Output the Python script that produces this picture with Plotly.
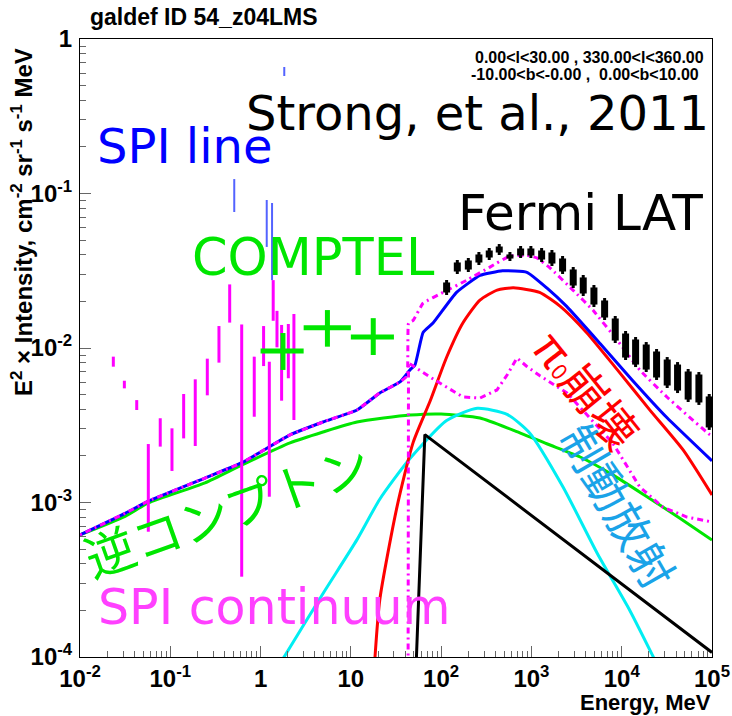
import plotly.graph_objects as go

# ---------------- data ----------------
# Model components (energy in MeV, E^2 x intensity in cm^-2 sr^-1 s^-1 MeV)
ic_energy = [0.01, 0.0316, 0.057, 0.242, 0.622, 2.12, 4.91, 11.7, 45.1, 100, 269, 624,
             1479, 3467, 7943, 19050, 43650, 1e5]
ic_flux = [6.17e-4, 8.13e-4, 9.93e-4, 1.34e-3, 1.75e-3, 2.43e-3, 2.86e-3, 3.32e-3, 3.68e-3,
           3.74e-3, 3.52e-3, 2.94e-3, 2.40e-3, 1.97e-3, 1.51e-3, 1.09e-3, 7.94e-4, 5.71e-4]

brems_energy = [1.58, 1.82, 4.90, 11.7, 20.9, 44.7, 115, 251, 537, 955, 2239, 5370, 12300,
                22390, 28180]
brems_flux = [8.7e-5, 1.0e-4, 2.57e-4, 5.75e-4, 1.05e-3, 1.91e-3, 3.39e-3, 4.07e-3, 3.72e-3,
              2.82e-3, 1.26e-3, 4.68e-4, 2.0e-4, 1.0e-4, 7.6e-5]

pi0_energy = [17.8, 20.9, 32.4, 49.0, 75.9, 115, 174, 269, 417, 631, 1230, 2089, 4074, 8913,
              20420, 47860, 1e5]
pi0_flux = [7.08e-5, 2.34e-4, 9.33e-4, 2.45e-3, 4.57e-3, 8.71e-3, 1.45e-2, 2.04e-2, 2.37e-2,
            2.45e-2, 2.29e-2, 1.86e-2, 1.26e-2, 7.24e-3, 3.98e-3, 2.19e-3, 1.12e-3]

black_energy = [52.5, 66.0, 1e5]
black_flux = [8.0e-5, 2.75e-3, 1.07e-4]

total_energy = [0.01, 0.0316, 0.057, 0.242, 0.622, 2.12, 4.91, 11.7, 20.9, 35.0, 45.1, 51.3,
                63.1, 81.3, 148, 269, 479, 891, 1479, 2455, 5754, 13180, 31620, 1e5]
total_flux = [6.17e-4, 8.51e-4, 1.02e-3, 1.44e-3, 1.81e-3, 2.74e-3, 3.32e-3, 3.97e-3, 5.12e-3,
              6.03e-3, 7.21e-3, 7.76e-3, 1.26e-2, 1.45e-2, 2.29e-2, 2.95e-2, 3.16e-2, 3.09e-2,
              2.45e-2, 1.86e-2, 1.07e-2, 6.17e-3, 3.55e-3, 1.86e-3]

upper_energy = [0.01, 0.0316, 0.057, 0.242, 0.622, 2.12, 4.91, 11.7, 20.9, 35.0, 42.0, 43.5,
                49.0, 63.1, 105, 193, 347, 575, 891, 1148, 1603, 2884, 4786, 8851, 15850,
                31620, 94840, 1e5]
upper_flux = [6.17e-4, 8.51e-4, 1.02e-3, 1.44e-3, 1.81e-3, 2.74e-3, 3.32e-3, 3.97e-3, 5.12e-3,
              6.03e-3, 6.6e-3, 1.45e-2, 1.51e-2, 1.95e-2, 2.29e-2, 2.75e-2, 3.34e-2, 3.94e-2,
              3.98e-2, 3.83e-2, 3.30e-2, 2.37e-2, 1.76e-2, 1.13e-2, 7.21e-3, 4.82e-3, 2.74e-3,
              2.70e-3]

lower_energy = [43.0, 43.5, 75.2, 174, 269, 415, 537, 692, 891, 1242, 2472, 7943, 15850,
                28580, 52720, 1e5]
lower_flux = [5.0e-5, 8.0e-3, 6.49e-3, 4.82e-3, 4.74e-3, 5.35e-3, 6.68e-3, 8.61e-3, 7.59e-3,
              6.61e-3, 5.12e-3, 2.43e-3, 1.26e-3, 9.33e-4, 8.05e-4, 7.48e-4]

# Fermi LAT data: energy and lower / upper flux of each bin
lat_energy = [115, 151, 200, 262, 341, 440, 578, 759, 986, 1297, 1687, 2214, 2903, 3748,
              4923, 6466, 8478, 11040, 14250, 18680, 24330, 31900, 41550, 54450, 71600, 93150]
lat_hi = [2.755e-2, 3.712e-2, 3.825e-2, 4.182e-2, 4.437e-2, 4.709e-2, 4.182e-2, 4.572e-2,
          4.572e-2, 4.437e-2, 4.308e-2, 3.940e-2, 3.344e-2, 2.969e-2, 2.557e-2, 2.107e-2,
          1.611e-2, 1.288e-2, 1.178e-2, 1.093e-2, 9.85e-3, 8.74e-3, 8.11e-3, 7.31e-3,
          6.99e-3, 5.04e-3]
lat_lo = [2.203e-2, 3.013e-2, 3.104e-2, 3.445e-2, 3.712e-2, 3.999e-2, 3.657e-2, 3.825e-2,
          3.825e-2, 3.603e-2, 3.394e-2, 3.013e-2, 2.445e-2, 2.171e-2, 1.842e-2, 1.518e-2,
          1.077e-2, 8.36e-3, 7.53e-3, 6.99e-3, 6.21e-3, 5.51e-3, 5.11e-3, 4.47e-3,
          4.28e-3, 2.95e-3]

# INTEGRAL/SPI continuum
spi_energy = [0.0234, 0.0310, 0.0425, 0.0571, 0.0774, 0.1044, 0.1406, 0.189, 0.257, 0.346,
              0.455, 0.618, 0.851, 1.08, 1.25, 1.38, 1.52, 1.71, 2.03, 2.34]
spi_hi = [8.79e-3, 6.14e-3, 4.60e-3, 2.39e-3, 3.51e-3, 3.02e-3, 5.04e-3, 6.27e-3, 8.53e-3,
          1.387e-2, 2.58e-2, 1.42e-2, 8.79e-3, 1.387e-2, 8.15e-3, 2.75e-2, 1.74e-2, 1.41e-2,
          1.43e-2, 1.66e-2]
spi_lo = [7.57e-3, 5.48e-3, 3.97e-3, 6.47e-4, 2.30e-3, 1.60e-3, 2.60e-3, 2.32e-3, 4.94e-3,
          8.04e-3, 1.46e-2, 3.31e-4, 3.59e-3, 7.64e-3, 1.09e-3, 1.50e-2, 1.01e-2, 4.56e-3,
          6.37e-3, 3.42e-3]

# INTEGRAL/SPI lines
line_energy = [0.511, 1.17, 1.34, 1.83]
line_hi = [0.124, 0.0908, 0.0868, 0.659]
line_lo = [0.0759, 0.0451, 0.0275, 0.576]

# COMPTEL
comptel_energy = [1.77, 5.5, 17.7]
comptel_emin = [1.0, 3.0, 10.0]
comptel_emax = [3.0, 10.0, 30.0]
comptel_flux = [9.57e-3, 1.35e-2, 1.18e-2]
comptel_lo = [7.21e-3, 1.02e-2, 9.01e-3]
comptel_hi = [1.25e-2, 1.76e-2, 1.56e-2]

x_tickvals = [1e-2, 1e-1, 1, 10, 1e2, 1e3, 1e4, 1e5]
x_ticktext = ["10<sup>-2</sup>", "10<sup>-1</sup>", "1", "10", "10<sup>2</sup>",
              "10<sup>3</sup>", "10<sup>4</sup>", "10<sup>5</sup>"]
y_tickvals = [1e-4, 1e-3, 1e-2, 1e-1, 1]
y_ticktext = ["10<sup>-4</sup>", "10<sup>-3</sup>", "10<sup>-2</sup>", "10<sup>-1</sup>", "1"]


def segments(xs, lo, hi):
    """Vertical segments x: lo..hi joined into one trace with gaps."""
    X, Y = [], []
    for x, a, b in zip(xs, lo, hi):
        X += [x, x, None]
        Y += [a, b, None]
    return X, Y


def hsegments(x0, x1, ys):
    X, Y = [], []
    for a, b, y in zip(x0, x1, ys):
        X += [a, b, None]
        Y += [y, y, None]
    return X, Y


fig = go.Figure()

def curve(x, y, color, width=3, dash="solid", shape="spline", smoothing=0.6):
    fig.add_trace(go.Scatter(x=x, y=y, mode="lines", line=dict(color=color, width=width,
                             dash=dash, shape=shape, smoothing=smoothing),
                             showlegend=False, hoverinfo="skip"))

DOTDASH = "2px,4px,6px,4px"
curve(ic_energy, ic_flux, "#00e600")
curve(brems_energy, brems_flux, "#00eef2")
curve(pi0_energy, pi0_flux, "#ff0000")
curve(black_energy, black_flux, "#000000", shape="linear")
curve(total_energy, total_flux, "#0000ff", smoothing=0.4)
curve(lower_energy, lower_flux, "#ff00ff", dash=DOTDASH, shape="linear")
curve(upper_energy, upper_flux, "#ff00ff", dash=DOTDASH, smoothing=0.3)

# SPI line measurements
X, Y = segments(line_energy, line_lo, line_hi)
fig.add_trace(go.Scatter(x=X, y=Y, mode="lines", line=dict(color="rgba(40,60,255,0.8)", width=2),
                         showlegend=False, hoverinfo="skip"))

# SPI continuum
X, Y = segments(spi_energy, spi_lo, spi_hi)
fig.add_trace(go.Scatter(x=X, y=Y, mode="lines", line=dict(color="#ff00ff", width=3),
                         showlegend=False, hoverinfo="skip"))

# COMPTEL crosses
X, Y = segments(comptel_energy, comptel_lo, comptel_hi)
X2, Y2 = hsegments(comptel_emin, comptel_emax, comptel_flux)
fig.add_trace(go.Scatter(x=X + X2, y=Y + Y2, mode="lines", line=dict(color="#00e600", width=5),
                         showlegend=False, hoverinfo="skip"))

# Fermi LAT: thin whisker plus thick box
X, Y = segments(lat_energy, lat_lo, lat_hi)
fig.add_trace(go.Scatter(x=X, y=Y, mode="lines", line=dict(color="#000000", width=3),
                         showlegend=False, hoverinfo="skip"))
shrink = 10 ** 0.016
X, Y = segments(lat_energy, [v * shrink for v in lat_lo], [v / shrink for v in lat_hi])
fig.add_trace(go.Scatter(x=X, y=Y, mode="lines", line=dict(color="#000000", width=7),
                         showlegend=False, hoverinfo="skip"))

# ---------------- layout ----------------
L, R, T, B = 80, 712, 39, 657
W, H = 732, 716

def px(x):
    return (x - L) / (R - L)

def py(y):
    return (B - y) / (B - T)

minor_x = [m * 10 ** k for k in range(-2, 5) for m in range(2, 10)]
minor_y = [m * 10 ** k for k in range(-4, 0) for m in range(2, 10)]

axis_common = dict(type="log", showgrid=False, zeroline=False, showline=True, mirror=True,
                   linecolor="black", linewidth=1, ticks="inside", ticklen=11,
                   tickcolor="#666666", tickwidth=1, automargin=False,
                   tickfont=dict(family="Liberation Sans", size=24, color="black",
                                 weight="bold"))

fig.update_layout(
    width=W, height=H,
    margin=dict(l=L, r=W - R, t=T, b=H - B, autoexpand=False),
    paper_bgcolor="white", plot_bgcolor="white",
    xaxis=dict(range=[-2, 5], tickvals=x_tickvals, ticktext=x_ticktext,
               minor=dict(ticks="inside", ticklen=6, tickcolor="#666666", tickvals=minor_x),
               ticklabelstandoff=0, **axis_common),
    yaxis=dict(range=[-4, 0], tickvals=y_tickvals, ticktext=y_ticktext,
               minor=dict(ticks="inside", ticklen=6, tickcolor="#666666", tickvals=minor_y),
               ticklabelstandoff=2, **axis_common),
)

JP = "Noto Sans CJK JP"
LAT = "DejaVu Sans ExtraLight, DejaVu Sans"

def note(text, x, y, size, color, family=JP, angle=0, xanchor="center", weight="normal"):
    fig.add_annotation(text=text, x=px(x), y=py(y), xref="paper", yref="paper",
                       showarrow=False, xanchor=xanchor, yanchor="middle", textangle=angle,
                       font=dict(family=family, size=size, color=color, weight=weight))

note("galdef ID 54_z04LMS", 88, 17, 23, "black", family="Liberation Sans", xanchor="left",
     weight="bold")
note("0.00&lt;l&lt;30.00 , 330.00&lt;l&lt;360.00", 473, 57.5, 16, "black",
     family="Liberation Sans", xanchor="left", weight="bold")
note("-10.00&lt;b&lt;-0.00 ,  0.00&lt;b&lt;10.00", 469, 75, 16, "black",
     family="Liberation Sans", xanchor="left", weight="bold")
note("Energy, MeV", 713, 702, 22, "black", family="Liberation Sans", xanchor="right",
     weight="bold")
note("E<sup>2</sup> × Intensity, cm<sup>-2</sup> sr<sup>-1</sup> s<sup>-1</sup> MeV", 22, 222,
     24, "black", family="Liberation Sans", angle=-90, weight="bold")

note("Strong, et al., 2011", 477, 113, 48, "black", family=LAT)
note("SPI line", 184, 146, 48, "#0000ff", family=LAT)
note("Fermi LAT", 580, 213, 50, "black", family=LAT)
note("COMPTEL", 313, 257, 51, "#00e600", family=LAT)
note("SPI continuum", 274, 607, 49, "#ff40ff", family=LAT)
note("逆コンプトン", 226, 508, 50, "#00e600", angle=-19.5)
note("π<span style='font-size:22px'>0</span>崩壊", 588, 388, 46, "#ff0000", angle=51)
note("制動放射", 620, 505, 45, "#1aa3e8", angle=60)

fig.write_html("out.html")
